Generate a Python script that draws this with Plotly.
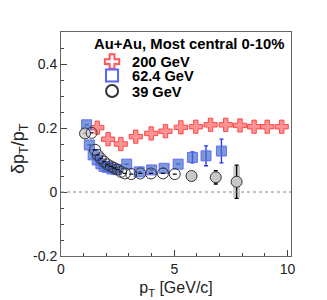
import plotly.graph_objects as go

# 200 GeV
pt200 = [1.6, 2.08, 2.64, 3.3, 3.98, 4.61, 5.29, 5.95, 6.6, 7.27, 7.9, 8.52, 9.1, 9.74]
v200 = [0.201, 0.165, 0.150, 0.173, 0.183, 0.190, 0.202, 0.204, 0.210, 0.210, 0.208, 0.204, 0.204, 0.204]

# 62.4 GeV
pt62 = [1.13, 1.25, 1.42, 1.6, 1.76, 1.9, 2.05, 2.25, 2.45, 2.9, 3.45, 4.0, 4.55, 5.17, 5.8, 6.4, 7.08]
v62 = [0.210, 0.147, 0.116, 0.100, 0.088, 0.080, 0.077, 0.072, 0.070, 0.087, 0.063, 0.069, 0.074, 0.087, 0.108, 0.113, 0.128]
e62 = [0, 0, 0, 0, 0, 0, 0, 0, 0, 0, 0, 0, 0, 0, 0.017, 0.031, 0.037]

# 39 GeV
pt39 = [1.06, 1.35, 1.5, 1.62, 1.75, 1.9, 2.05, 2.2, 2.35, 2.5, 2.65, 2.82, 3.1, 3.5, 3.97, 4.5, 5.02, 5.76, 6.83, 7.75]
v39 = [0.183, 0.185, 0.132, 0.116, 0.105, 0.095, 0.086, 0.080, 0.075, 0.070, 0.063, 0.058, 0.056, 0.058, 0.058, 0.058, 0.056, 0.050, 0.046, 0.032]
e39 = [0]*18 + [0.021, 0.052]
sys39 = [0]*18 + [0.015, 0.05]

legend_title = "Au+Au, Most central 0-10%"
names = ["200 GeV", "62.4 GeV", "39 GeV"]

fig = go.Figure()

# systematic boxes for 39 GeV
fig.add_trace(go.Bar(
    x=pt39, y=[2*s for s in sys39], base=[v - s for v, s in zip(v39, sys39)],
    width=0.3, marker=dict(color="rgba(190,190,190,0.8)", line=dict(width=0)),
    showlegend=False, hoverinfo="skip"))

fig.add_trace(go.Scatter(
    x=pt200, y=v200, mode="markers", showlegend=False,
    marker=dict(symbol="cross", size=11, color="rgba(255,110,110,0.75)",
                line=dict(color="rgba(255,60,60,0.9)", width=1))))

fig.add_trace(go.Scatter(
    x=pt62, y=v62, mode="markers", showlegend=False,
    error_y=dict(type="data", array=e62, color="#2233ee", thickness=1.3, width=2),
    marker=dict(symbol="square", size=10, color="rgba(70,110,200,0.7)",
                line=dict(color="rgba(90,100,255,0.9)", width=1))))

fill39 = ["rgba(200,200,200,0.8)"] + ["rgba(0,0,0,0)"]*16 + ["rgba(200,200,200,1)"]*3
fig.add_trace(go.Scatter(
    x=pt39, y=v39, mode="markers", showlegend=False,
    error_y=dict(type="data", array=e39, color="black", thickness=1.3, width=2),
    marker=dict(symbol="circle", size=11, color=fill39,
                line=dict(color="#333333", width=1))))

# legend entries (one legend per entry for tight ROOT-like spacing)
leg_style = [("cross-open", "#ff5555"), ("square-open", "#5566ff"), ("circle-open", "#333333")]
leg_ids = ["legend", "legend2", "legend3"]
for nm, (sym, col), lid in zip(names, leg_style, leg_ids):
    fig.add_trace(go.Scatter(x=[None], y=[None], mode="markers", name="<b>" + nm + "</b>",
        legend=lid, marker=dict(symbol=sym, size=12, color=col, line=dict(width=1))))

fig.add_hline(y=0, line=dict(color="#888888", width=1, dash="dot"))

leg_font = dict(size=14.6, color="black", family="Liberation Sans, Arial")
def leg(y):
    return dict(x=0.135, y=y, xanchor="left", yanchor="middle", bgcolor="rgba(0,0,0,0)",
                font=leg_font, itemsizing="constant")

fig.add_annotation(text="<b>" + legend_title + "</b>", xref="paper", yref="paper",
                   x=0.135, y=0.946, xanchor="left", yanchor="middle", showarrow=False,
                   font=dict(size=14.8, color="black"))
fig.add_annotation(text="δp<sub>T</sub>/p<sub>T</sub>", xref="paper", yref="paper",
                   x=-0.178, y=0.478, xanchor="center", yanchor="middle", showarrow=False,
                   textangle=-90, font=dict(size=18, color="#222222"))

fig.update_layout(
    width=319, height=292,
    margin=dict(l=53, r=36, t=24, b=44, autoexpand=False),
    plot_bgcolor="white", paper_bgcolor="white",
    font=dict(family="Liberation Sans, Arial", color="#222222", size=14),
    showlegend=True, barmode="overlay",
    legend=leg(0.868), legend2=leg(0.806), legend3=leg(0.7366),
    xaxis=dict(range=[0, 10.15], showgrid=False, zeroline=False, automargin=False,
               showline=True, linecolor="#666666", mirror=True,
               ticks="inside", tickvals=[0, 5, 10], ticklen=6, tickcolor="#444",
               minor=dict(ticks="inside", dtick=1, ticklen=3, tickcolor="#444"),
               title=dict(text="p<sub>T</sub> [GeV/c]", font=dict(size=16), standoff=6)),
    yaxis=dict(range=[-0.2, 0.5], showgrid=False, zeroline=False, automargin=False,
               showline=True, linecolor="#666666", mirror=True,
               ticks="inside", tickvals=[-0.2, 0, 0.2, 0.4], ticktext=["-0.2", "0", "0.2", "0.4"],
               ticklen=6, tickcolor="#444",
               minor=dict(ticks="inside", dtick=0.05, ticklen=3, tickcolor="#444")),
)

fig.write_html("out.html")
